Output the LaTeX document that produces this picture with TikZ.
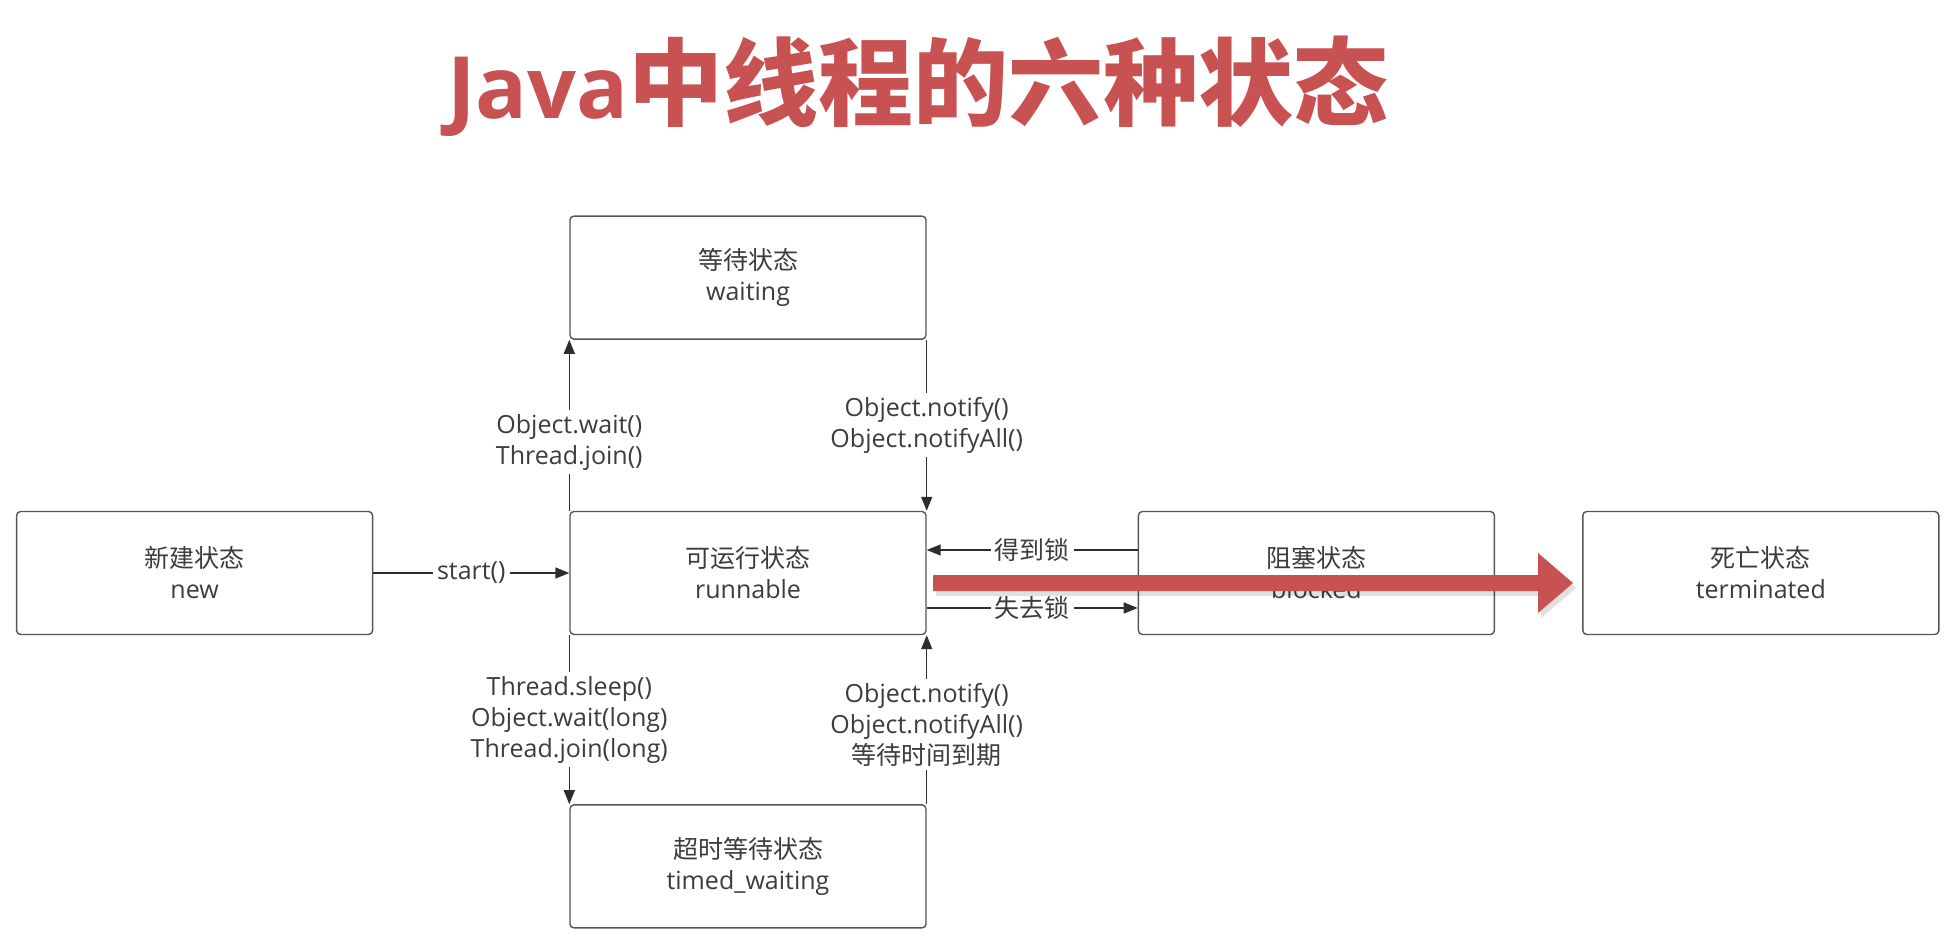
\documentclass[tikz,border=0pt]{standalone}
\usepackage{fontspec}
\setmainfont{Open Sans}
\newfontfamily\cjk{Noto Sans CJK SC}
\usepackage{xcolor}
\usetikzlibrary{arrows.meta, positioning}
\definecolor{TitleRed}{RGB}{200, 82, 82}
\definecolor{BoxGray}{RGB}{85, 85, 85}
\definecolor{TextGray}{RGB}{60, 60, 60}
\definecolor{LineDark}{RGB}{45, 45, 45}

\begin{document}
\begin{tikzpicture}[x=1pt, y=-1pt,
  statebox/.style={draw=BoxGray, line width=1.4pt, rounded corners=4pt,
    minimum width=356pt, minimum height=123pt, align=center,
    text=TextGray, font=\fontsize{25}{31}\selectfont},
  lbl/.style={fill=white, inner sep=4pt, align=center,
    text=TextGray, font=\fontsize{25}{31}\selectfont},
  arr/.style={draw=LineDark, line width=1.4pt, -{Triangle[length=14pt,width=11pt]}}]
  \useasboundingbox (0,0) rectangle (1955,952);

  % title
  \node[anchor=base, text=TitleRed, font=\fontsize{95}{100}\selectfont\bfseries] (title) at (918,119)
    {{\fontsize{86}{100}\selectfont Java}{\cjk 中线程的六种状态}};

  % states
  \node[statebox] (runnable) at (748,573) {{\cjk 可运行状态}\\runnable};
  \node[statebox, above=171pt of runnable] (waiting) {{\cjk 等待状态}\\waiting};
  \node[statebox, below=169pt of runnable] (timed) {{\cjk 超时等待状态}\\timed\_waiting};
  \node[statebox, left=196pt of runnable] (new) {{\cjk 新建状态}\\new};
  \node[statebox, right=211pt of runnable] (blocked) {{\cjk 阻塞状态}\\blocked};
  \node[statebox, right=87pt of blocked] (terminated) {{\cjk 死亡状态}\\terminated};

  % transitions
  \draw[arr] (new) -- node[lbl] {start()} (runnable);
  \draw[arr] (runnable.north west) -- node[lbl, pos=0.4] {Object.wait()\\Thread.join()} (waiting.south west);
  \draw[arr] (waiting.south east) -- node[lbl] {Object.notify()\\Object.notifyAll()} (runnable.north east);
  \draw[arr] (runnable.south west) -- node[lbl] {Thread.sleep()\\Object.wait(long)\\Thread.join(long)} (timed.north west);
  \draw[arr] (timed.north east) -- node[lbl, pos=0.47] {Object.notify()\\Object.notifyAll()\\{\cjk 等待时间到期}} (runnable.south east);
  \draw[arr] ([yshift=23pt]blocked.west) -- node[lbl] {\cjk 得到锁} ([yshift=23pt]runnable.east);
  \draw[arr] ([yshift=-35pt]runnable.east) -- node[lbl] {\cjk 失去锁} ([yshift=-35pt]blocked.west);

  % red marker arrow
  \fill[black, opacity=0.12] (936,580) -- (1541,580) -- (1541,558) -- (1576,588) -- (1541,618) -- (1541,596) -- (936,596) -- cycle;
  \fill[TitleRed] (933,575) -- (1538,575) -- (1538,553) -- (1573,583) -- (1538,613) -- (1538,591) -- (933,591) -- cycle;
\end{tikzpicture}
\end{document}
